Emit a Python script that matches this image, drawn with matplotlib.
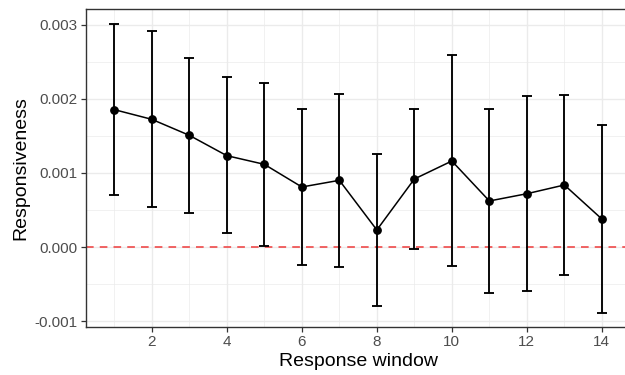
import numpy as np
import matplotlib
matplotlib.use('Agg')
import matplotlib.pyplot as plt
from matplotlib.ticker import FixedLocator

# Data
window = [1, 2, 3, 4, 5, 6, 7, 8, 9, 10, 11, 12, 13, 14]
resp = [0.001856, 0.001725, 0.001509, 0.001234, 0.001117, 0.000811, 0.000901,
        0.000230, 0.000919, 0.001162, 0.000622, 0.000720, 0.000838, 0.000378]
upper = [0.003018, 0.002923, 0.002559, 0.002297, 0.002220, 0.001869, 0.002068,
         0.001261, 0.001869, 0.002595, 0.001869, 0.002045, 0.002054, 0.001649]
lower = [0.000698, 0.000536, 0.000464, 0.000185, 0.000018, -0.000239, -0.000270,
         -0.000793, -0.000032, -0.000257, -0.000622, -0.000599, -0.000378, -0.000887]
yticks = [-0.001, 0.000, 0.001, 0.002, 0.003]
ytick_labels = ['-0.001', '0.000', '0.001', '0.002', '0.003']
xticks = [2, 4, 6, 8, 10, 12, 14]

plt.rcParams['font.family'] = ['Liberation Sans', 'DejaVu Sans']

fig = plt.figure(figsize=(6.25, 3.75), dpi=100)
# panel runs a little past the right edge of the picture, as in the reference
ax = fig.add_axes([0.1376, 0.128, 0.871, 0.848])

x = np.array(window)
y = np.array(resp)
yerr = [y - np.array(lower), np.array(upper) - y]

ax.axhline(0, color='#EE3B3B', lw=1.1, dashes=(5, 4), zorder=2)
ax.errorbar(x, y, yerr=yerr, fmt='none', ecolor='black', elinewidth=1.35,
            capsize=3.5, capthick=1.35, zorder=3)
ax.plot(x, y, color='black', lw=1.1, zorder=4)
ax.scatter(x, y, s=28, color='black', zorder=5)

ax.set_xlim(0.245, 14.76)
ax.set_ylim(-0.001081, 0.003216)

ax.xaxis.set_major_locator(FixedLocator(xticks))
ax.xaxis.set_minor_locator(FixedLocator([1, 3, 5, 7, 9, 11, 13]))
ax.yaxis.set_major_locator(FixedLocator(yticks))
ax.set_yticklabels(ytick_labels)
ax.yaxis.set_minor_locator(FixedLocator([-0.0005, 0.0005, 0.0015, 0.0025]))

ax.grid(which='major', color='#EBEBEB', lw=1.0, zorder=0)
ax.grid(which='minor', color='#EBEBEB', lw=0.5, zorder=0)
ax.set_axisbelow(True)

for s in ax.spines.values():
    s.set_color('#333333')
    s.set_linewidth(1.0)

ax.tick_params(which='major', length=3.5, width=0.9, color='#333333',
               labelcolor='#4D4D4D', labelsize=11, pad=2.5)
ax.tick_params(which='minor', length=0)

ax.set_xlabel('Response window', fontsize=14, labelpad=3)
ax.set_ylabel('Responsiveness', fontsize=14, labelpad=4)

fig.savefig('out.png', dpi=100)
